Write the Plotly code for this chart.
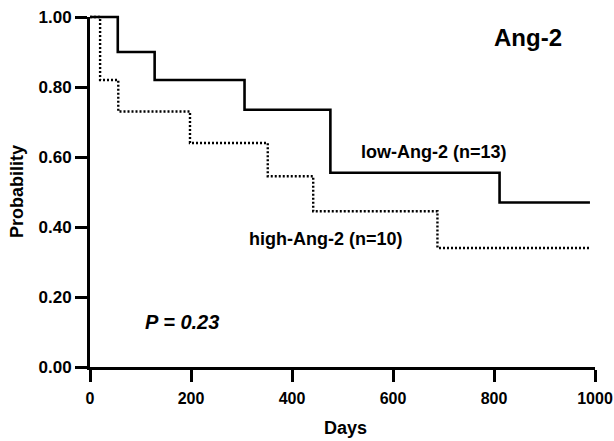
import plotly.graph_objects as go

# ---- data ----
days_low = [0, 55, 128, 306, 476, 811, 990]
surv_low = [1.00, 0.90, 0.82, 0.735, 0.555, 0.47, 0.47]
days_high = [0, 20, 56, 198, 352, 442, 688, 990]
surv_high = [1.00, 0.82, 0.73, 0.64, 0.545, 0.445, 0.34, 0.34]
x_ticks = [0, 200, 400, 600, 800, 1000]
x_ticktext = ["0", "200", "400", "600", "800", "1000"]
y_ticks = [0.0, 0.2, 0.4, 0.6, 0.8, 1.0]
y_ticktext = ["0.00", "0.20", "0.40", "0.60", "0.80", "1.00"]
label_low = "low-Ang-2 (n=13)"
label_high = "high-Ang-2 (n=10)"
title_text = "Ang-2"
p_text = "<i>P</i><i> = 0.23</i>"

# ---- layout geometry (pixels) ----
W, H = 614, 441
ML, MR, MT, MB = 78, 5, 5, 62
PX0, PX1 = 90, 595      # pixel of x=0 and x=1000
PY0, PY1 = 367, 17      # pixel of y=0 and y=1
XMAX = 1000.0

pw = W - ML - MR
ph = H - MT - MB
bottom = H - MB

xdom = [(PX0 - ML) / pw, (PX1 - ML) / pw]
ydom = [(bottom - PY0) / ph, (bottom - PY1) / ph]

sx = (PX1 - PX0) / XMAX
sy = (PY0 - PY1) / 1.0
x2range = [(ML - PX0) / sx, XMAX + (W - MR - PX1) / sx]
y2range = [-(bottom - PY0) / sy, 1.0 + (PY1 - MT) / sy]


def px2x(px):
    return (px - PX0) / sx


def py2y(py):
    return (PY0 - py) / sy


def ppx(px):
    return (px - ML) / pw


def ppy(py):
    return (bottom - py) / ph


FONT = "Liberation Sans, Arial, sans-serif"

fig = go.Figure()
# empty trace so the visible axes (x / y) are drawn
fig.add_trace(go.Scatter(x=[], y=[], xaxis="x", yaxis="y", showlegend=False,
                         hoverinfo="skip"))
fig.add_trace(go.Scatter(
    x=days_low, y=surv_low, mode="lines", line_shape="hv",
    line=dict(color="black", width=2.6), xaxis="x2", yaxis="y2",
    showlegend=False, hoverinfo="skip"))
fig.add_trace(go.Scatter(
    x=days_high, y=surv_high, mode="lines", line_shape="hv",
    line=dict(color="black", width=2.4, dash="2px,2px"), xaxis="x2", yaxis="y2",
    showlegend=False, hoverinfo="skip"))

axis_common = dict(
    showgrid=False, zeroline=False, showline=True, linecolor="black",
    linewidth=3, ticks="outside", ticklen=12, tickwidth=3, tickcolor="black",
    fixedrange=True, ticklabeloverflow="allow",
)

fig.update_layout(
    width=W, height=H,
    margin=dict(l=ML, r=MR, t=MT, b=MB, autoexpand=False),
    paper_bgcolor="white", plot_bgcolor="rgba(0,0,0,0)",
    xaxis=dict(domain=xdom, range=[0, XMAX], tickvals=x_ticks, ticktext=x_ticktext,
               anchor="y", ticklabelstandoff=3,
               tickfont=dict(family=FONT, size=16, color="black", weight="bold"),
               **axis_common),
    yaxis=dict(domain=ydom, range=[0, 1.0], tickvals=y_ticks, ticktext=y_ticktext,
               anchor="x",
               tickfont=dict(family=FONT, size=17, color="black", weight="bold"),
               **axis_common),
    xaxis2=dict(domain=[0, 1], range=x2range, visible=False, anchor="y2",
                fixedrange=True),
    yaxis2=dict(domain=[0, 1], range=y2range, visible=False, anchor="x2",
                fixedrange=True),
    showlegend=False,
)

annos = [
    dict(text="<b>" + title_text + "</b>", x=px2x(528), y=py2y(37), size=24),
    dict(text="<b>" + label_low + "</b>", x=px2x(434), y=py2y(152), size=18),
    dict(text="<b>" + label_high + "</b>", x=px2x(326), y=py2y(239), size=18),
    dict(text="<b>" + p_text + "</b>", x=px2x(182), y=py2y(322), size=20),
]
for a in annos:
    fig.add_annotation(x=a["x"], y=a["y"], xref="x2", yref="y2", text=a["text"],
                       showarrow=False, xanchor="center", yanchor="middle",
                       font=dict(family=FONT, size=a["size"], color="black"))

fig.add_annotation(x=ppx(345), y=ppy(428), xref="paper", yref="paper",
                   text="<b>Days</b>", showarrow=False, xanchor="center", yanchor="middle",
                   font=dict(family=FONT, size=18, color="black"))
fig.add_annotation(x=ppx(17), y=ppy(192), xref="paper", yref="paper",
                   text="<b>Probability</b>", showarrow=False, textangle=-90,
                   xanchor="center", yanchor="middle",
                   font=dict(family=FONT, size=18, color="black"))

fig.write_html("out.html", config={"displayModeBar": False},
               post_script="document.body.style.margin='0';document.body.style.padding='0';")
